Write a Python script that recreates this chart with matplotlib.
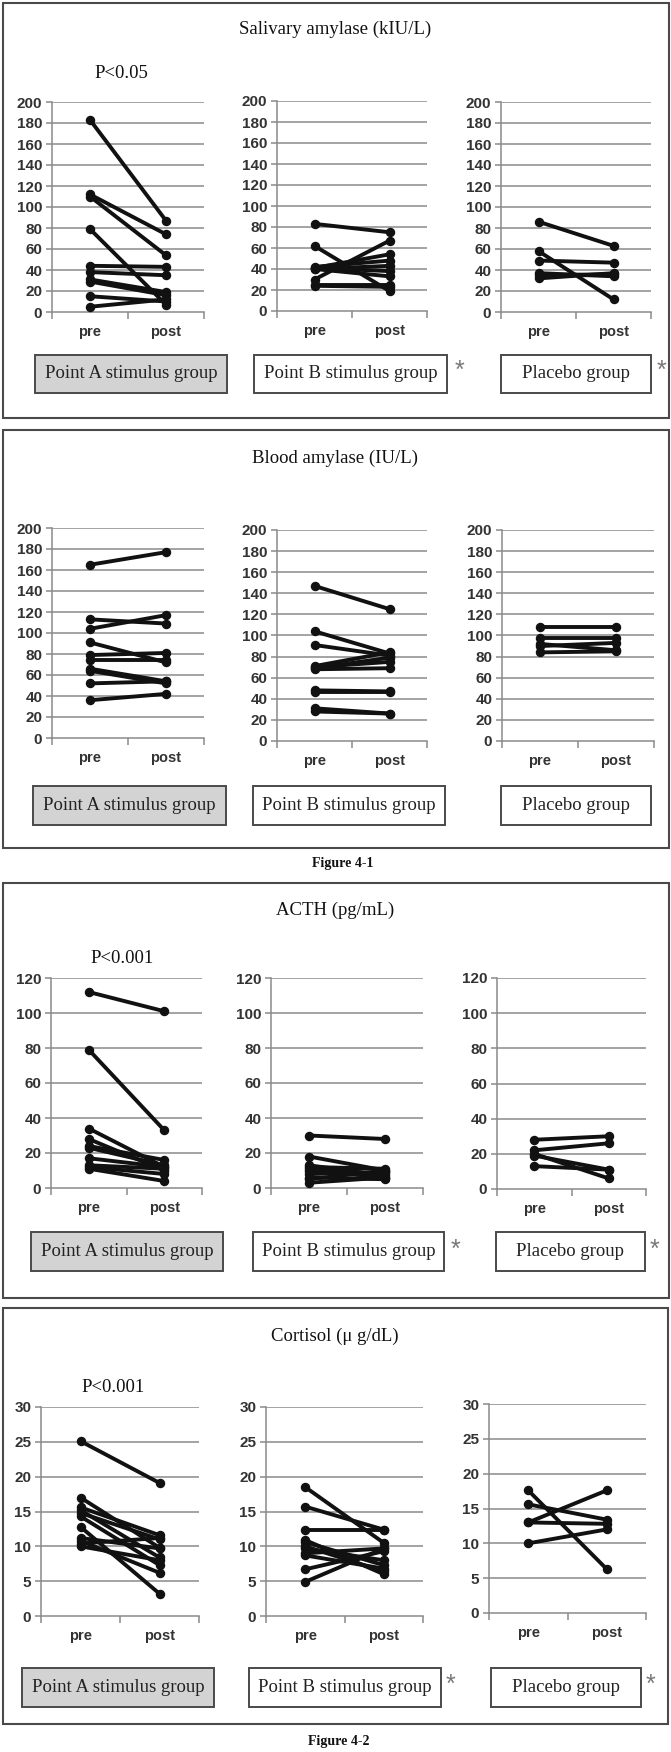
import matplotlib
matplotlib.use('Agg')
import matplotlib.pyplot as plt
from matplotlib.patches import Rectangle

W, H = 671, 1752

# ---- data (pre -> post, one line per subject) ----
sal_a_pre = [183, 112, 110, 79, 44, 38, 31, 29, 15, 5]
sal_a_post = [87, 74, 54, 7, 43, 35, 19, 16, 10, 12]
sal_b_pre = [83, 62, 30, 41, 42, 40, 41, 40, 25, 24]
sal_b_post = [75, 19, 67, 54, 48, 43, 38, 33, 25, 23]
sal_c_pre = [86, 58, 49, 37, 35, 32]
sal_c_post = [63, 12, 47, 34, 36, 37]

bld_a_pre = [165, 113, 104, 91, 79, 74, 66, 64, 52, 36]
bld_a_post = [177, 109, 117, 72, 81, 74, 54, 52, 54, 42]
bld_b_pre = [147, 104, 91, 71, 70, 69, 68, 48, 46, 31, 28]
bld_b_post = [125, 83, 81, 84, 75, 79, 69, 47, 46, 26, 26]
bld_c_pre = [108, 98, 92, 90, 84]
bld_c_post = [108, 98, 86, 93, 85]

acth_a_pre = [112, 79, 34, 28, 24, 23, 17, 13, 12, 11]
acth_a_post = [101, 33, 12, 10, 16, 13, 12, 11, 8, 4]
acth_b_pre = [30, 18, 13, 12, 11, 10, 8, 6, 5, 3]
acth_b_post = [28, 10, 7, 11, 8, 6, 9, 5, 10, 6]
acth_c_pre = [28, 22, 20, 19, 13]
acth_c_post = [30, 26, 6, 11, 11]

cor_a_pre = [25.1, 17.0, 15.6, 15.2, 14.8, 14.3, 12.8, 11.2, 10.8, 10.4, 10.0]
cor_a_post = [19.1, 9.8, 11.6, 8.4, 11.0, 7.3, 3.2, 9.7, 6.2, 11.2, 8.0]
cor_b_pre = [18.5, 15.7, 12.4, 10.9, 10.6, 10.0, 9.7, 9.0, 8.7, 6.7, 4.9]
cor_b_post = [10.5, 12.4, 12.4, 6.0, 7.3, 6.4, 8.0, 9.7, 6.8, 9.3, 9.7]
cor_c_pre = [17.6, 15.6, 13.0, 13.0, 10.0]
cor_c_post = [6.3, 13.4, 17.6, 12.8, 12.0]

x_labels = ['pre', 'post']
group_labels = ['Point A stimulus group', 'Point B stimulus group', 'Placebo group']
titles = ['Salivary amylase (kIU/L)', 'Blood amylase (IU/L)', 'ACTH (pg/mL)', 'Cortisol (\u03bc g/dL)']
p_texts = ['P<0.05', None, 'P<0.001', 'P<0.001']
amylase_ticks = [0, 20, 40, 60, 80, 100, 120, 140, 160, 180, 200]
acth_ticks = [0, 20, 40, 60, 80, 100, 120]
cortisol_ticks = [0, 5, 10, 15, 20, 25, 30]

GRID = '#8a8a8a'
EDGE = '#4a4a4a'
SERIF = ['Liberation Serif', 'DejaVu Serif']
SANS = ['Liberation Sans', 'DejaVu Sans']

fig = plt.figure(figsize=(W / 100, H / 100), dpi=100)


def rect(x0, y0, x1, y1):
    return [x0 / W, 1 - y1 / H, (x1 - x0) / W, (y1 - y0) / H]


def fx(x):
    return x / W


def fy(y):
    return 1 - y / H


def draw_pairs(box, pre, post, ticks):
    ax = fig.add_axes(rect(*box))
    for a, b in zip(pre, post):
        ax.plot([0.5, 1.5], [a, b], color='#111111', lw=2.8, marker='o', ms=5.8,
                solid_capstyle='round', clip_on=False, zorder=3)
    ax.set_xlim(0, 2)
    ax.set_ylim(0, ticks[-1])
    ax.set_yticks(ticks)
    ax.set_yticklabels([str(t) for t in ticks], fontfamily=SANS, fontweight='bold',
                       fontsize=11, color='#333333')
    for t in ticks[1:]:
        ax.axhline(t, color=GRID, lw=1.1, zorder=1)
    ax.set_xticks([0, 1, 2])
    ax.set_xticklabels([])
    ax.tick_params(axis='x', length=5, width=1.1, color=GRID, direction='out')
    ax.tick_params(axis='y', length=4, width=1.1, color=GRID, direction='out', pad=3)
    for s in ['top', 'right']:
        ax.spines[s].set_visible(False)
    for s in ['left', 'bottom']:
        ax.spines[s].set_color(GRID)
        ax.spines[s].set_linewidth(1.1)
    for i, lbl in enumerate(x_labels):
        ax.annotate(lbl, xy=(0.5 + i, 0), xycoords=('data', 'axes fraction'),
                    xytext=(0, -14.4), textcoords='offset points', ha='center', va='center',
                    fontfamily=SANS, fontweight='bold', fontsize=10.5, color='#333333')
    ax.set_facecolor('none')
    return ax


def group_box(x0, x1, y0, y1, label, shaded):
    fig.add_artist(Rectangle((fx(x0), fy(y1)), fx(x1 - x0), (y1 - y0) / H,
                             transform=fig.transFigure, facecolor='#d3d3d3' if shaded else 'white',
                             edgecolor=EDGE, lw=1.4))
    fig.text(fx((x0 + x1) / 2), fy((y0 + y1) / 2), label, ha='center', va='center',
             fontfamily=SERIF, fontsize=13.5, color='#222222')


def star(x, y):
    fig.text(fx(x), fy(y), '*', ha='center', va='center', fontfamily=SANS,
             fontsize=18, color='#777777')


def frame(x0, y0, x1, y1):
    fig.add_artist(Rectangle((fx(x0), fy(y1)), fx(x1 - x0), (y1 - y0) / H,
                             transform=fig.transFigure, facecolor='none', edgecolor=EDGE, lw=1.5))


panels = [
    dict(frame=(3, 3, 669, 418), title_y=29, p=(121, 73),
         axes=[(52, 102, 204, 312), (277, 101, 427, 311), (501, 102, 651, 312)],
         data=[(sal_a_pre, sal_a_post), (sal_b_pre, sal_b_post), (sal_c_pre, sal_c_post)],
         ticks=amylase_ticks, box_y=(355, 393), boxes=[(35, 227), (254, 447), (501, 651)],
         stars=[(459, 371), (661, 371)]),
    dict(frame=(3, 430, 669, 848), title_y=458, p=None,
         axes=[(52, 528, 204, 738), (277, 530, 427, 741), (502, 530, 654, 741)],
         data=[(bld_a_pre, bld_a_post), (bld_b_pre, bld_b_post), (bld_c_pre, bld_c_post)],
         ticks=amylase_ticks, box_y=(786, 825), boxes=[(33, 226), (253, 445), (501, 651)],
         stars=[]),
    dict(frame=(3, 883, 669, 1298), title_y=910, p=(122, 959),
         axes=[(51, 978, 202, 1188), (271, 978, 423, 1188), (497, 978, 646, 1189)],
         data=[(acth_a_pre, acth_a_post), (acth_b_pre, acth_b_post), (acth_c_pre, acth_c_post)],
         ticks=acth_ticks, box_y=(1232, 1271), boxes=[(31, 223), (253, 444), (496, 645)],
         stars=[(455, 1250), (654, 1250)]),
    dict(frame=(3, 1308, 668, 1724), title_y=1336, p=(113, 1388),
         axes=[(41, 1407, 199, 1616), (266, 1407, 423, 1616), (489, 1404, 646, 1613)],
         data=[(cor_a_pre, cor_a_post), (cor_b_pre, cor_b_post), (cor_c_pre, cor_c_post)],
         ticks=cortisol_ticks, box_y=(1668, 1707), boxes=[(22, 214), (249, 441), (491, 641)],
         stars=[(450, 1685), (650, 1685)]),
]

for i, pn in enumerate(panels):
    frame(*pn['frame'])
    fig.text(fx(335), fy(pn['title_y']), titles[i], ha='center', va='center',
             fontfamily=SERIF, fontsize=13.5, color='#111111')
    if p_texts[i]:
        fig.text(fx(pn['p'][0]), fy(pn['p'][1]), p_texts[i], ha='center', va='center',
                 fontfamily=SERIF, fontsize=13.5, color='#111111')
    for box, (pre, post) in zip(pn['axes'], pn['data']):
        draw_pairs(box, pre, post, pn['ticks'])
    for j, (x0, x1) in enumerate(pn['boxes']):
        group_box(x0, x1, pn['box_y'][0], pn['box_y'][1], group_labels[j], j == 0)
    for sx, sy in pn['stars']:
        star(sx, sy)

fig.text(fx(343), fy(863), 'Figure 4-1', ha='center', va='center', fontfamily=SERIF,
         fontweight='bold', fontsize=10, color='#111111')
fig.text(fx(339), fy(1742), 'Figure 4-2', ha='center', va='center', fontfamily=SERIF,
         fontweight='bold', fontsize=10, color='#111111')

fig.savefig('out.png', dpi=100, facecolor='white')
